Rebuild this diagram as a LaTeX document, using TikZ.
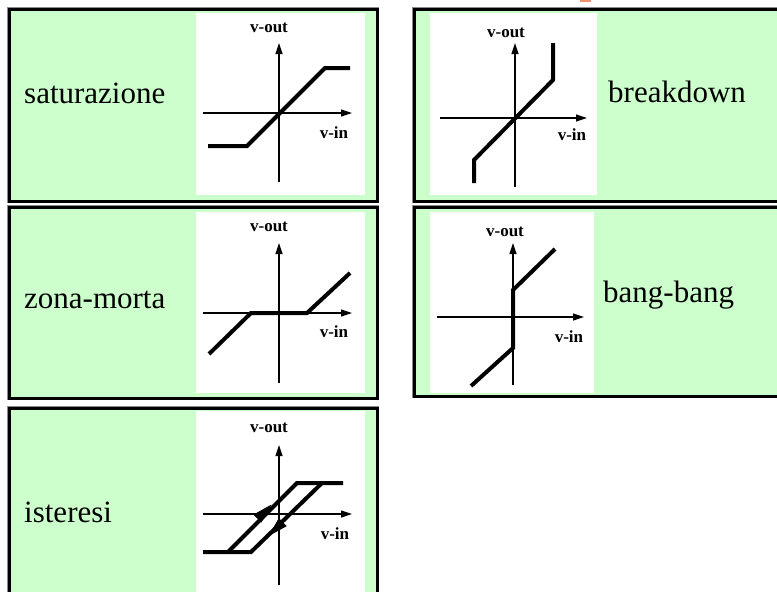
\documentclass[tikz,border=0pt]{standalone}
\usepackage{fontspec}
\setmainfont{Liberation Serif}
\usetikzlibrary{arrows.meta,decorations.markings}
\definecolor{boxgreen}{HTML}{CCFFCC}
\definecolor{titleorange}{HTML}{F29072}
\begin{document}
\begin{tikzpicture}[x=1pt,y=-1pt,
  panelhalo/.style={draw=black!45, line width=4.6pt},
  panel/.style={fill=boxgreen, draw=black, line width=3pt},
  plotbg/.style={fill=white, draw=none},
  axisline/.style={line width=1.2pt, -{Triangle[length=11pt,width=7pt]}},
  curve/.style={line width=4pt, line join=miter},
  lbl/.style={font=\fontsize{31}{31}\selectfont, inner sep=0pt, anchor=base west},
  axlbl/.style={font=\fontsize{17}{17}\selectfont\bfseries, inner sep=0pt, anchor=base},
  flowarrow/.style={postaction={decorate}, decoration={markings,
      mark=at position #1 with {\arrow{Triangle[length=20pt,width=11pt]}}}}]
\useasboundingbox (0,0) rectangle (777,592);
\clip (0,0) rectangle (777,592);
\fill[white] (0,0) rectangle (777,592);
\fill[titleorange] (580,0) rectangle (591,2);

% panels
\foreach \a/\b/\c/\d in {9.5/9.5/377/201, 9.5/207.5/377/398, 9.5/408/377/604,
                         414/9.5/800/201, 414/207.5/800/396}{
  \draw[panelhalo] (\a,\b) rectangle (\c,\d);
  \draw[panel] (\a,\b) rectangle (\c,\d);
}
% white plot areas
\fill[plotbg] (196,13) rectangle (365,195);
\fill[plotbg] (196,212) rectangle (365,393);
\fill[plotbg] (196,411) rectangle (365,600);
\fill[plotbg] (430,13) rectangle (597,195);
\fill[plotbg] (430,212) rectangle (594,393);

% labels
\node[lbl] (tsat) at (24,103) {saturazione};
\node[lbl] (tzona) at (24,308) {zona-morta};
\node[lbl] (tist) at (24,522) {isteresi};
\node[lbl] (tbreak) at (608,102) {breakdown};
\node[lbl] (tbang) at (603,302) {bang-bang};

% ---- saturazione
\draw[axisline] (279,182) -- (279,43);
\draw[axisline] (203,113) -- (352,113);
\node[axlbl] (o1) at (269,32) {v-out};
\node[axlbl] (i1) at (334,138) {v-in};
\draw[curve] (208,146) -- (247,146) -- (325,68) -- (350,68);

% ---- breakdown
\draw[axisline] (515,187) -- (515,43);
\draw[axisline] (440,118) -- (587,118);
\node[axlbl] (o2) at (506,37) {v-out};
\node[axlbl] (i2) at (572,140) {v-in};
\draw[curve] (474,183) -- (474,160) -- (553,80) -- (553,43);

% ---- zona-morta
\draw[axisline] (279,383) -- (279,243);
\draw[axisline] (203,313) -- (352,313);
\node[axlbl] (o3) at (269,231) {v-out};
\node[axlbl] (i3) at (334,337) {v-in};
\draw[curve] (209,354) -- (251,313) -- (307,313) -- (350,273);

% ---- bang-bang
\draw[axisline] (513,385) -- (513,243);
\draw[axisline] (437,317) -- (584,317);
\node[axlbl] (o4) at (505,236) {v-out};
\node[axlbl] (i4) at (569,342) {v-in};
\draw[curve] (471,386) -- (513,348) -- (513,290) -- (555,249);

% ---- isteresi
\draw[axisline] (279,585) -- (279,445);
\draw[axisline] (203,514) -- (352,514);
\node[axlbl] (o5) at (269,432) {v-out};
\node[axlbl] (i5) at (335,539) {v-in};
\draw[curve] (203,552) -- (251,552) -- (322,483) -- (343,483);
\draw[curve] (228,552) -- (297,483) -- (322,483);
\draw[line width=1pt, flowarrow=0.66, draw=none] (226,550) -- (295,481);
\draw[line width=1pt, flowarrow=0.74, draw=none] (321,485) -- (250,554);
\end{tikzpicture}
\end{document}
